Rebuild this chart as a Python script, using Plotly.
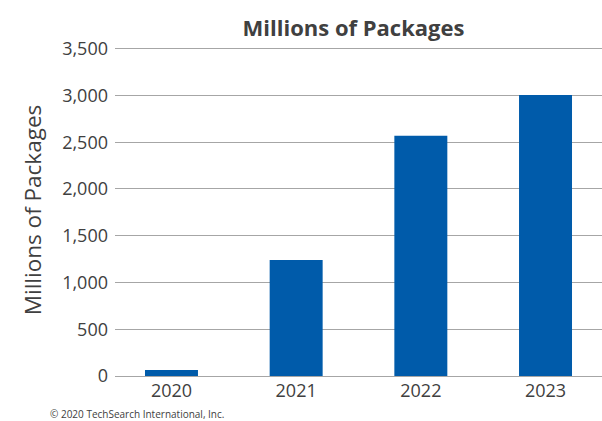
import plotly.graph_objects as go

years = ["2020", "2021", "2022", "2023"]
packages = [65, 1240, 2570, 3005]
y_ticks = [0, 500, 1000, 1500, 2000, 2500, 3000, 3500]

BAR_BLUE = "#005BAA"
TEXT = "#404040"
GRID = "#A6A6A6"
FONT = "Open Sans, Lato, sans-serif"

PLOT_LEFT, PLOT_TOP, PLOT_BOTTOM = 115, 49, 376
Y_MAX = 3500
Y_HEADROOM = 50  # keeps the top gridline inside the plotting area
px_per_unit = (PLOT_BOTTOM - PLOT_TOP) / Y_MAX
top_margin = PLOT_TOP - Y_HEADROOM * px_per_unit

fig = go.Figure(
    go.Bar(
        x=list(range(len(years))),
        y=packages,
        width=0.425,
        marker=dict(color=BAR_BLUE, line=dict(width=0)),
        hoverinfo="skip",
    )
)

fig.update_layout(
    width=602,
    height=421,
    margin=dict(l=PLOT_LEFT, r=0, t=top_margin, b=421 - PLOT_BOTTOM),
    paper_bgcolor="white",
    plot_bgcolor="white",
    showlegend=False,
    font=dict(family=FONT, color=TEXT),
    title=dict(
        text="<b>Millions of Packages</b>",
        x=353.5 / 602,
        xanchor="center",
        y=1 - 28 / 421,
        yanchor="middle",
        font=dict(family=FONT, size=22, color=TEXT),
    ),
)

fig.update_xaxes(
    range=[-0.453, 3.453],
    tickvals=list(range(len(years))),
    ticktext=years,
    tickfont=dict(size=18, color=TEXT),
    showgrid=False,
    zeroline=False,
    showline=False,
    ticks="",
    ticklabelstandoff=2,
)

fig.update_yaxes(
    range=[0, Y_MAX + Y_HEADROOM],
    tickvals=y_ticks,
    ticktext=[f"{v:,}" for v in y_ticks],
    tickfont=dict(size=18, color=TEXT),
    showgrid=True,
    gridcolor=GRID,
    gridwidth=1,
    zeroline=True,
    zerolinecolor=GRID,
    zerolinewidth=1,
    showline=False,
    ticks="",
    ticklabelstandoff=6,
    title=dict(
        text="Millions of Packages",
        font=dict(size=22.5, color=TEXT),
        standoff=14,
    ),
)

fig.add_annotation(
    text="© 2020 TechSearch International, Inc.",
    xref="paper",
    yref="paper",
    x=(48 - PLOT_LEFT) / (602 - PLOT_LEFT),
    y=-(414 - PLOT_BOTTOM) / (PLOT_BOTTOM - top_margin),
    xanchor="left",
    yanchor="middle",
    showarrow=False,
    font=dict(family=FONT, size=10, color=TEXT),
)

fig.write_html("out.html")
